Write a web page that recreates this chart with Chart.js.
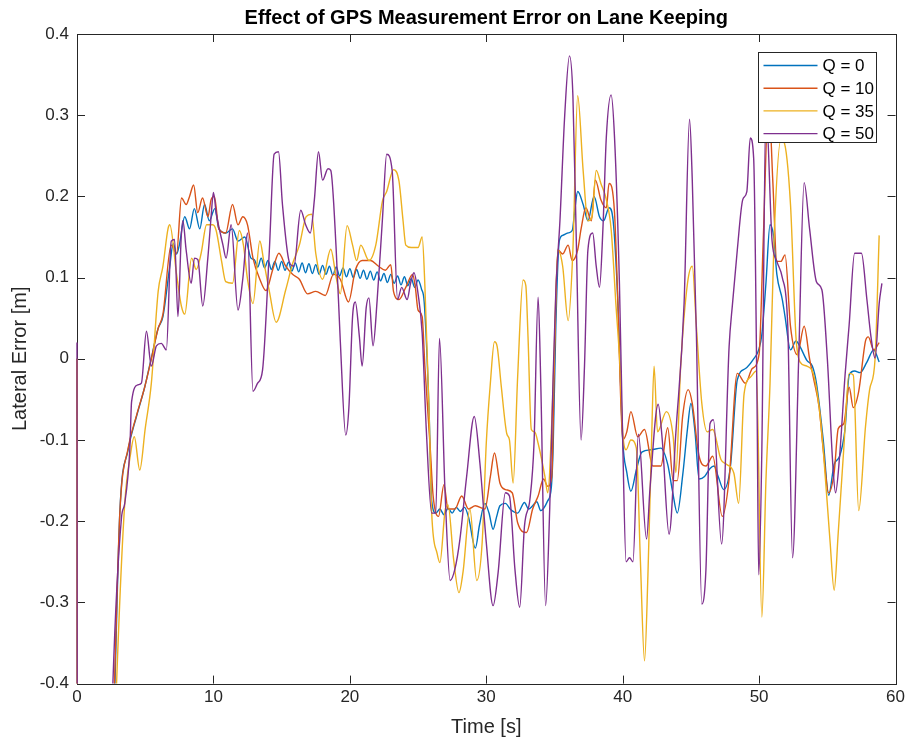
<!DOCTYPE html>
<html>
<head>
<meta charset="utf-8">
<script src="https://cdn.jsdelivr.net/npm/chart.js@4.4.1/dist/chart.umd.min.js"></script>
<style>
  html, body { margin: 0; padding: 0; background: #fff; }
  #wrap { width: 909px; height: 750px; position: relative; }
</style>
</head>
<body>
<div id="wrap"><canvas id="chart"></canvas></div>
<script>
// Lateral error traces (time in s, error in m)
const seriesLabels = ['Q = 0', 'Q = 10', 'Q = 35', 'Q = 50'];
const seriesColors = ['#0072BD', '#D95319', '#EDB120', '#7E2F8E'];

const q0Time = [0, 0.06, 2.4, 2.78, 3.14, 3.75, 4.36, 4.96, 5.45, 5.94, 6.3, 6.8, 7.05, 7.3, 7.5, 7.9, 8.25, 8.6, 9.0, 9.35, 9.7, 10.1, 10.4, 10.9, 11.4, 11.8, 12.3, 12.75,
  13.0, 13.25, 13.5, 13.75, 14.0, 14.25, 14.5, 14.75, 15.0, 15.25, 15.5, 15.75, 16.0, 16.25, 16.5, 16.75, 17.0, 17.25, 17.5, 17.75, 18.0, 18.25, 18.5, 18.75,
  19.0, 19.25, 19.5, 19.75, 20.0, 20.25, 20.5, 20.75, 21.0, 21.25, 21.5, 21.75, 22.0, 22.25, 22.5, 22.75, 23.0, 23.25, 23.5, 23.75, 24.0, 24.25, 24.5, 24.75, 25.0, 25.25,
  25.45, 25.8, 26.0, 26.3, 26.6, 26.9, 27.2, 27.5, 27.8, 28.1, 28.4, 28.7, 29.2, 29.5, 29.9, 30.2, 30.5, 30.75, 31.0, 31.4, 31.8, 32.3, 32.8, 33.1, 33.4, 33.7, 34.0, 34.5, 34.77, 34.9,
  35.1, 35.35, 35.6, 36.0, 36.3, 36.5, 36.7, 37.1, 37.45, 37.9, 38.3, 38.6, 39.0, 39.3, 39.65, 40.0, 40.3, 40.6, 41.0, 41.4, 42.1, 42.8, 43.3, 43.65, 44.0, 44.4, 44.75,
  45.0, 45.3, 45.6, 46.0, 46.4, 46.7, 47.0, 47.4, 47.9, 48.4, 49.0, 49.6, 49.97, 50.2, 50.5, 50.8, 51.07, 51.3, 51.7, 51.9, 52.3, 52.7, 53.0, 53.5, 53.9, 54.2, 54.7,
  55.1, 55.5, 55.9, 56.3, 56.6, 57.0, 57.4, 57.9, 58.4, 58.8];
const q0Error = [0.0, -1.0, -0.62, -0.4, -0.189, -0.112, -0.071, -0.035, 0.001, 0.037, 0.052, 0.114, 0.142, 0.129, 0.14, 0.175, 0.16, 0.185, 0.16, 0.19, 0.17, 0.185, 0.16, 0.155, 0.16, 0.145, 0.15, 0.124,
  0.122, 0.113, 0.124, 0.112, 0.121, 0.110, 0.120, 0.109, 0.120, 0.109, 0.119, 0.108, 0.118, 0.107, 0.118, 0.106, 0.117, 0.105, 0.116, 0.104, 0.115, 0.104, 0.114, 0.103,
  0.113, 0.102, 0.112, 0.101, 0.111, 0.100, 0.110, 0.099, 0.109, 0.098, 0.108, 0.097, 0.107, 0.096, 0.105, 0.094, 0.104, 0.093, 0.102, 0.091, 0.101, 0.090, 0.099, 0.088, 0.097, 0.086,
  0.07, -0.06, -0.175, -0.19, -0.185, -0.192, -0.184, -0.19, -0.183, -0.188, -0.183, -0.195, -0.233, -0.205, -0.178, -0.19, -0.21, -0.195, -0.181, -0.178, -0.186, -0.19, -0.177, -0.185, -0.181, -0.176, -0.187, -0.175, -0.158, -0.11,
  0.042, 0.145, 0.152, 0.155, 0.158, 0.185, 0.206, 0.19, 0.17, 0.2, 0.175, 0.17, 0.186, 0.17, 0.068, -0.1, -0.14, -0.163, -0.137, -0.115, -0.112, -0.11, -0.13, -0.163, -0.19, -0.143, -0.086,
  -0.055, -0.09, -0.148, -0.145, -0.135, -0.132, -0.145, -0.161, -0.132, -0.026, -0.012, 0.0, 0.011, 0.03, 0.093, 0.165, 0.15, 0.104, 0.073, 0.052, 0.011, 0.022, 0.015, -0.002, -0.009, -0.03, -0.1,
  -0.168, -0.13, -0.12, -0.086, -0.02, -0.015, -0.017, -0.004, 0.011, -0.004];

const q10Time = [0, 0.06, 2.4, 2.75, 3.14, 3.75, 4.36, 4.96, 5.45, 5.94, 6.3, 6.9, 7.3, 7.66, 8.0, 8.25, 8.55, 8.85, 9.2, 9.6, 9.83, 10.07, 10.4, 10.9, 11.4, 11.8, 12.15, 12.5, 12.9,
  13.4, 13.85, 14.35, 14.8, 15.3, 15.8, 16.3, 16.9, 17.5, 18.2, 18.8, 19.3, 19.9, 20.4, 20.9, 21.5, 22.1, 22.6, 23.0, 23.2, 23.6, 24.1, 24.6, 24.8, 25.0, 25.3, 25.5, 25.9,
  26.1, 26.5, 26.9, 27.2, 27.7, 28.2, 28.7, 29.2, 29.9, 30.3, 30.6, 31.0, 31.4, 31.9, 32.3, 32.95, 33.4, 33.8, 34.2, 34.5, 34.8, 35.0, 35.25, 35.6, 36.0, 36.3, 36.7, 36.95,
  37.3, 37.7, 38.0, 38.4, 38.8, 39.0, 39.4, 39.65, 40.0, 40.3, 40.6, 41.1, 41.6, 42.2, 42.8, 43.3, 43.7, 44.0, 44.4, 44.8, 45.1, 45.6, 46.1, 46.6, 47.3, 47.8, 48.4,
  49.0, 49.5, 50.0, 50.3, 50.7, 51.0, 51.3, 51.6, 51.9, 52.3, 52.8, 53.3, 53.7, 54.0, 54.4, 54.7, 55.1, 55.5, 55.8, 56.2, 56.6, 56.9, 57.3, 57.8, 58.0, 58.4, 58.8];
const q10Error = [0.0, -1.0, -0.62, -0.4, -0.19, -0.11, -0.07, -0.035, 0.0, 0.037, 0.055, 0.14, 0.13, 0.198, 0.19, 0.2, 0.214, 0.18, 0.198, 0.175, 0.196, 0.2, 0.16, 0.155, 0.19, 0.165, 0.175, 0.165, 0.124,
  0.098, 0.084, 0.11, 0.13, 0.114, 0.104, 0.098, 0.08, 0.083, 0.078, 0.104, 0.098, 0.07, 0.109, 0.121, 0.121, 0.114, 0.109, 0.116, 0.083, 0.073, 0.088, 0.104, 0.088, 0.06, 0.052, -0.009, -0.112,
  -0.168, -0.194, -0.155, -0.185, -0.185, -0.169, -0.185, -0.181, -0.185, -0.145, -0.116, -0.153, -0.161, -0.165, -0.202, -0.214, -0.185, -0.169, -0.148, -0.157, -0.145, 0.0, 0.134, 0.129, 0.14, 0.121, 0.134, 0.16,
  0.186, 0.17, 0.22, 0.196, 0.186, 0.216, 0.18, 0.068, -0.1, -0.09, -0.065, -0.096, -0.087, -0.132, -0.132, -0.085, -0.15, -0.15, -0.07, -0.038, -0.055, -0.12, -0.132, -0.12, -0.194, -0.148, -0.018,
  -0.03, -0.012, 0.006, 0.145, 0.32, 0.22, 0.12, 0.12, 0.128, 0.04, 0.005, 0.04, 0.0, -0.025, -0.06, -0.112, -0.165, -0.14, -0.086, -0.08, -0.035, -0.06, -0.04, 0.022, 0.027, 0.011, 0.02];

const q35Time = [0, 0.06, 2.5, 2.9, 3.5, 3.9, 4.2, 4.6, 5.0, 5.45, 5.95, 6.3, 6.67, 6.8, 7.3, 7.65, 7.9, 8.4, 8.74, 9.1, 9.5, 9.95, 10.2, 10.6, 10.9, 11.4, 11.9, 12.2, 12.5, 12.9,
  13.4, 13.7, 14.1, 14.6, 15.3, 15.8, 16.3, 16.8, 17.2, 17.5, 18.0, 18.6, 19.0, 19.3, 19.8, 20.2, 20.5, 20.8, 21.4, 21.9, 22.4, 22.7, 23.2, 23.6, 23.9, 24.1, 24.5, 25.0, 25.3,
  25.5, 25.8, 26.0, 26.4, 26.6, 27.0, 27.2, 27.6, 28.0, 28.3, 28.8, 29.3, 29.7, 30.0, 30.3, 30.6, 30.8, 31.1, 31.5, 31.7, 31.97, 32.3, 32.7, 32.9, 33.06, 33.3, 33.55, 33.8,
  34.3, 34.5, 34.9, 35.25, 35.6, 36.0, 36.35, 36.7, 37.1, 37.45, 37.75, 38.06, 38.4, 38.8, 39.15, 39.5, 39.8, 40.0, 40.25, 40.6, 41.0, 41.3, 41.6, 41.85, 42.1, 42.3, 42.55,
  43.2, 43.7, 43.9, 44.25, 44.75, 45.1, 45.4, 45.8, 46.2, 46.6, 47.2, 47.6, 48.15, 48.5, 48.9, 49.4, 49.8, 50.2, 50.5, 50.8, 51.1, 51.6, 51.8, 52.3, 52.7, 53.0, 53.5,
  54.0, 54.4, 54.7, 55.2, 55.5, 55.8, 56.2, 56.6, 56.9, 57.3, 57.8, 58.1, 58.5, 58.8];
const q35Error = [0.0, -1.0, -0.62, -0.4, -0.178, -0.12, -0.096, -0.137, -0.086, -0.03, 0.083, 0.114, 0.16, 0.165, 0.104, 0.065, 0.055, 0.124, 0.11, 0.13, 0.165, 0.165, 0.158, 0.12, 0.095, 0.093, 0.158, 0.14, 0.098, 0.068,
  0.145, 0.119, 0.083, 0.045, 0.085, 0.117, 0.14, 0.175, 0.178, 0.13, 0.098, 0.135, 0.1, 0.08, 0.164, 0.14, 0.121, 0.14, 0.121, 0.14, 0.195, 0.206, 0.233, 0.219, 0.17, 0.14, 0.137, 0.137, 0.15,
  0.09, -0.06, -0.19, -0.24, -0.251, -0.185, -0.18, -0.246, -0.288, -0.262, -0.185, -0.273, -0.226, -0.104, -0.03, 0.021, 0.015, -0.034, -0.092, -0.1, -0.153, -0.022, 0.097, 0.09, 0.027, -0.087, -0.09, -0.104,
  -0.145, -0.165, -0.035, 0.134, 0.114, 0.047, 0.134, 0.324, 0.232, 0.17, 0.175, 0.232, 0.216, 0.196, 0.16, 0.068, -0.009, -0.09, -0.112, -0.1, -0.11, -0.25, -0.372, -0.266, -0.112, -0.009, -0.09,
  -0.065, -0.096, -0.14, -0.009, 0.093, 0.114, 0.04, -0.055, -0.09, -0.087, -0.124, -0.13, -0.141, -0.178, -0.043, -0.022, -0.015, -0.318, -0.15, -0.03, 0.15, 0.27, 0.268, 0.19, 0.027, -0.004, -0.009,
  -0.02, -0.06, -0.112, -0.225, -0.285, -0.214, -0.112, -0.018, -0.02, -0.187, -0.083, -0.038, 0.0, 0.152];

const q50Time = [0, 0.05, 2.3, 2.63, 3.26, 3.5, 3.87, 4.0, 4.48, 4.72, 5.09, 5.45, 5.82, 6.18, 6.55, 6.91, 7.15, 7.4, 7.64, 7.76, 8.0, 8.37, 8.61, 8.86, 9.22, 9.59, 9.83, 10.0, 10.2,
  10.7, 10.93, 11.3, 11.8, 12.15, 12.5, 12.9, 13.24, 13.6, 14.1, 14.45, 14.77, 15.06, 15.55, 15.9, 16.4, 16.76, 17.1, 17.4, 17.7, 18.0, 18.4, 18.6, 19.0, 19.3, 19.7, 19.93,
  20.2, 20.4, 20.7, 20.9, 21.2, 21.4, 21.7, 22.0, 22.4, 22.7, 23.1, 23.5, 23.8, 24.2, 24.45, 24.7, 25.0, 25.3, 25.6, 26.0, 26.3, 26.57, 26.98, 27.35, 27.7, 28.07, 28.56,
  29.12, 29.53, 30.0, 30.5, 30.87, 31.4, 31.7, 32.1, 32.45, 32.8, 33.2, 33.5, 33.8, 34.0, 34.35, 34.65, 34.9, 35.1, 35.4, 35.75, 36.1, 36.35, 36.6, 36.95, 37.2, 37.45,
  37.8, 38.06, 38.3, 38.55, 38.8, 39.15, 39.4, 39.76, 40.0, 40.25, 40.5, 40.75, 41.15, 41.75, 42.0, 42.6, 42.9, 43.4, 43.9, 44.5, 44.9, 45.1, 45.4, 45.8, 46.1, 46.4,
  46.65, 47.25, 47.8, 48.05, 48.4, 48.8, 49.1, 49.35, 49.6, 49.85, 49.97, 50.2, 50.5, 50.95, 51.3, 51.7, 52.1, 52.45, 52.9, 53.3, 53.7, 54.2, 54.6, 55.0, 55.4, 55.6,
  55.9, 56.3, 56.6, 57.0, 57.5, 57.9, 58.2, 58.5, 58.8, 59.0];
const q50Error = [0.02, -1.0, -0.62, -0.4, -0.196, -0.178, -0.112, -0.053, -0.032, -0.03, 0.034, -0.009, 0.016, 0.019, 0.011, 0.145, 0.147, 0.052, 0.15, 0.17, 0.134, 0.093, 0.124, 0.122, 0.065, 0.124, 0.175, 0.205, 0.18,
  0.14, 0.124, 0.165, 0.06, 0.098, 0.155, -0.04, -0.03, -0.014, 0.134, 0.252, 0.255, 0.19, 0.12, 0.114, 0.183, 0.165, 0.155, 0.196, 0.255, 0.22, 0.234, 0.232, 0.134, 0.022, -0.094, -0.06,
  0.052, 0.07, 0.027, -0.009, 0.063, 0.075, 0.016, 0.072, 0.175, 0.252, 0.232, 0.073, 0.088, 0.073, 0.093, 0.106, 0.08, 0.032, -0.086, -0.19, -0.19, 0.025, -0.165, -0.273, -0.259, -0.222, -0.145,
  -0.071, -0.128, -0.226, -0.304, -0.263, -0.165, -0.169, -0.259, -0.306, -0.206, -0.173, -0.104, 0.076, -0.034, -0.304, -0.185, -0.022, 0.084, 0.17, 0.3, 0.373, 0.324, 0.145, -0.1, -0.009, 0.134,
  0.155, 0.114, 0.088, 0.16, 0.273, 0.325, 0.273, 0.093, -0.1, -0.25, -0.245, -0.25, -0.093, -0.222, -0.16, -0.056, -0.1, -0.216, -0.09, 0.068, 0.295, 0.22, 0.032, -0.302, -0.26, -0.08,
  -0.075, -0.228, 0.015, 0.068, 0.134, 0.196, 0.206, 0.272, 0.247, -0.06, -0.266, -0.112, 0.31, 0.145, 0.12, 0.1, 0.04, -0.245, 0.0, 0.217, 0.16, 0.095, 0.085, 0.0, -0.13, -0.165,
  -0.12, -0.02, 0.042, 0.13, 0.13, 0.073, 0.027, 0.001, 0.068, 0.093];

const xTickStep = 10;
const yTickStep = 0.1;

const FONT = "'Liberation Sans', Arial, Helvetica, sans-serif";
const AXIS_COLOR = '#262626';

function toPoints(times, values) {
    return times.map((t, i) => ({ x: t, y: values[i] }));
}

const allTimes = [q0Time, q10Time, q35Time, q50Time];
const allErrors = [q0Error, q10Error, q35Error, q50Error];

// Box frame with inward ticks on all four sides (MATLAB look), under the lines
const framePlugin = {
    id: 'frame',
    beforeDatasetsDraw(chart) {
        const { ctx, chartArea: a, scales } = chart;
        const len = 8;
        ctx.save();
        ctx.strokeStyle = AXIS_COLOR;
        ctx.lineWidth = 1;
        ctx.strokeRect(Math.round(a.left) + 0.5, Math.round(a.top) + 0.5,
            Math.round(a.right - a.left), Math.round(a.bottom - a.top));
        ctx.beginPath();
        scales.x.ticks.forEach(t => {
            const px = Math.round(scales.x.getPixelForValue(t.value)) + 0.5;
            ctx.moveTo(px, a.bottom); ctx.lineTo(px, a.bottom - len);
            ctx.moveTo(px, a.top); ctx.lineTo(px, a.top + len);
        });
        scales.y.ticks.forEach(t => {
            const py = Math.round(scales.y.getPixelForValue(t.value)) + 0.5;
            ctx.moveTo(a.left, py); ctx.lineTo(a.left + len, py);
            ctx.moveTo(a.right, py); ctx.lineTo(a.right - len, py);
        });
        ctx.stroke();
        ctx.restore();
    }
};

// Legend box in the upper right corner of the axes
const legendPlugin = {
    id: 'boxLegend',
    afterDatasetsDraw(chart) {
        const { ctx, chartArea: a } = chart;
        const w = 118, h = 90;
        const left = Math.round(a.right - 20 - w) + 0.5;
        const top = Math.round(a.top + 18) + 0.5;
        ctx.save();
        ctx.fillStyle = '#fff';
        ctx.fillRect(left, top, w, h);
        ctx.strokeStyle = AXIS_COLOR;
        ctx.lineWidth = 1;
        ctx.strokeRect(left, top, w, h);
        ctx.font = '17px ' + FONT;
        ctx.textBaseline = 'middle';
        ctx.textAlign = 'left';
        chart.data.datasets.forEach((ds, i) => {
            const y = top + 13 + i * 22.7;
            ctx.strokeStyle = ds.borderColor;
            ctx.lineWidth = 1.4;
            ctx.beginPath();
            ctx.moveTo(left + 5, y);
            ctx.lineTo(left + 59, y);
            ctx.stroke();
            ctx.fillStyle = '#000';
            ctx.fillText(ds.label, left + 64, y + 1);
        });
        ctx.restore();
    }
};

const datasets = seriesLabels.map((label, i) => ({
    label: label,
    data: toPoints(allTimes[i], allErrors[i]),
    borderColor: seriesColors[i],
    backgroundColor: seriesColors[i],
    borderWidth: 1.4,
    pointRadius: 0,
    fill: false,
    cubicInterpolationMode: 'monotone',
    clip: { left: 2, top: 1, right: 1, bottom: 0 },
    order: seriesLabels.length - i
}));

new Chart(document.getElementById('chart'), {
    type: 'line',
    data: { datasets: datasets },
    options: {
        responsive: true,
        maintainAspectRatio: false,
        animation: false,
        layout: { padding: { top: 0, right: 10, bottom: 0, left: 0 } },
        plugins: {
            legend: { display: false },
            tooltip: { enabled: false },
            title: {
                display: true,
                text: 'Effect of GPS Measurement Error on Lane Keeping',
                fullSize: false,
                color: '#000',
                font: { family: FONT, size: 20, weight: 'bold' },
                padding: { top: 6, bottom: 4 }
            }
        },
        scales: {
            x: {
                type: 'linear',
                min: 0,
                max: 60,
                grid: { display: false, drawTicks: false },
                border: { display: false },
                ticks: {
                    stepSize: xTickStep,
                    padding: 4,
                    maxRotation: 0,
                    color: AXIS_COLOR,
                    font: { family: FONT, size: 17 }
                },
                title: {
                    display: true,
                    text: 'Time [s]',
                    color: AXIS_COLOR,
                    font: { family: FONT, size: 20 },
                    padding: { top: 3, bottom: 11 }
                }
            },
            y: {
                min: -0.4,
                max: 0.4,
                grid: { display: false, drawTicks: false },
                border: { display: false },
                afterFit(scale) { scale.width = 77; },
                ticks: {
                    stepSize: yTickStep,
                    padding: 8,
                    color: AXIS_COLOR,
                    font: { family: FONT, size: 17 }
                },
                title: {
                    display: true,
                    text: 'Lateral Error [m]',
                    color: AXIS_COLOR,
                    font: { family: FONT, size: 20 },
                    padding: { top: 8, bottom: 4 }
                }
            }
        }
    },
    plugins: [framePlugin, legendPlugin]
});
</script>
</body>
</html>
